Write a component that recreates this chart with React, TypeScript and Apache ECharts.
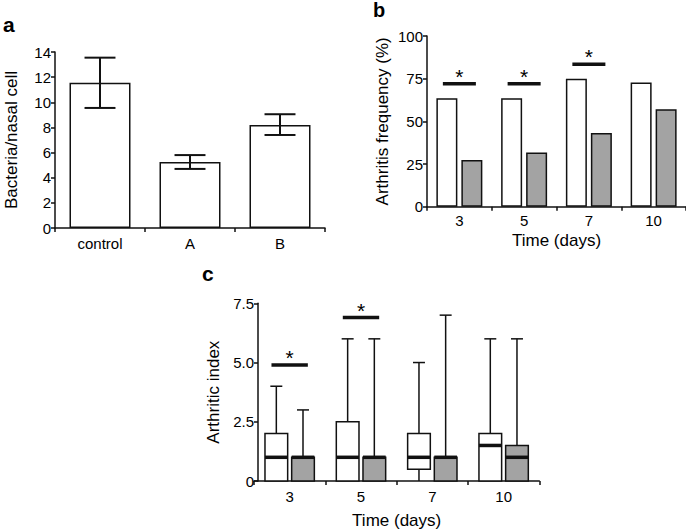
import React, { useEffect, useRef } from "react";
import * as echarts from "echarts";

// ---- Panel a data ----
const aCategories = ["control", "A", "B"];
const aMeans = [11.55, 5.25, 8.2];
const aErrLow = [9.55, 4.7, 7.4];
const aErrHigh = [13.55, 5.8, 9.05];

// ---- Panel b data ----
const bCategories = ["3", "5", "7", "10"];
const bWhite = [63.6, 63.6, 75, 72.7];
const bGray = [27.3, 31.8, 43.2, 57.1];
const bSigIndex = [0, 1, 2];
const bSigLevel = [72, 72, 83.5];

// ---- Panel c data: [min, q1, median, q3, max] ----
const cCategories = ["3", "5", "7", "10"];
const cWhiteBoxes = [
  [0, 0, 1, 2, 4],
  [0, 0, 1, 2.5, 6],
  [0, 0.5, 1, 2, 5],
  [0, 0, 1.5, 2, 6],
];
const cGrayBoxes = [
  [0, 0, 1, 1, 3],
  [0, 0, 1, 1, 6],
  [0, 0, 1, 1, 7],
  [0, 0, 1, 1.5, 6],
];
const cSigIndex = [0, 1];
const cSigLevel = [4.9, 6.9];

const FONT = "'Liberation Sans', Arial, Helvetica, sans-serif";
const INK = "#111";
const GRAYFILL = "#a3a3a3";

const axisLine = { show: true, lineStyle: { color: INK, width: 1.5 } };
const axisTick = { show: true, length: 4, inside: false, lineStyle: { color: INK, width: 1.5 } };
const tickLabel = { color: "#000", fontSize: 15, fontFamily: FONT };
const nameStyle = { color: "#000", fontSize: 17, fontFamily: FONT };

function errorBarRender(params: any, api: any) {
  const i = api.value(0);
  const lo = api.value(1);
  const hi = api.value(2);
  const top = api.coord([i, hi]);
  const bot = api.coord([i, lo]);
  const half = api.size([1, 0])[0] * 0.172;
  const st = { stroke: INK, lineWidth: 2 };
  return {
    type: "group",
    children: [
      { type: "line", shape: { x1: top[0], y1: top[1], x2: bot[0], y2: bot[1] }, style: st },
      { type: "line", shape: { x1: top[0] - half, y1: top[1], x2: top[0] + half, y2: top[1] }, style: st },
      { type: "line", shape: { x1: bot[0] - half, y1: bot[1], x2: bot[0] + half, y2: bot[1] }, style: st },
    ],
  };
}

function makeBoxRender(offsetFrac: number, fill: string) {
  return (params: any, api: any) => {
    const i = api.value(0);
    const mn = api.value(1);
    const q1 = api.value(2);
    const md = api.value(3);
    const q3 = api.value(4);
    const mx = api.value(5);
    const band = api.size([1, 0])[0];
    const c = api.coord([i, 0])[0] + offsetFrac * band;
    const hw = band * 0.159;
    const cap = band * 0.084;
    const y = (v: number) => api.coord([i, v])[1];
    const st = { stroke: INK, lineWidth: 1.5 };
    const children: any[] = [];
    children.push({ type: "line", shape: { x1: c, y1: y(q3), x2: c, y2: y(mx) }, style: st });
    children.push({ type: "line", shape: { x1: c - cap, y1: y(mx), x2: c + cap, y2: y(mx) }, style: st });
    if (mn < q1) {
      children.push({ type: "line", shape: { x1: c, y1: y(q1), x2: c, y2: y(mn) }, style: st });
    }
    children.push({
      type: "rect",
      shape: { x: c - hw, y: y(q3), width: hw * 2, height: y(q1) - y(q3) },
      style: { fill, stroke: INK, lineWidth: 1.5 },
    });
    children.push({
      type: "line",
      shape: { x1: c - hw, y1: y(md), x2: c + hw, y2: y(md) },
      style: { stroke: INK, lineWidth: 3.5 },
    });
    return { type: "group", children };
  };
}

function sigRender(params: any, api: any) {
  const i = api.value(0);
  const v = api.value(1);
  const p = api.coord([i, v]);
  const band = api.size([1, 0])[0];
  const half = band * 0.255;
  return {
    type: "group",
    children: [
      {
        type: "line",
        shape: { x1: p[0] - half, y1: p[1], x2: p[0] + half, y2: p[1] },
        style: { stroke: INK, lineWidth: 3.5 },
      },
      {
        type: "text",
        x: p[0],
        y: p[1] + 3,
        style: { text: "*", fontSize: 21, fontFamily: FONT, fill: "#000", align: "center", verticalAlign: "bottom" },
      },
    ],
  };
}

export default function App() {
  const ref = useRef<HTMLDivElement>(null);
  useEffect(() => {
    if (!ref.current) return;
    const chart = echarts.init(ref.current, null, { renderer: "svg" });
    const option: any = {
      animation: false,
      backgroundColor: "#fff",
      grid: [
        { left: 55, top: 52, width: 270, height: 176 },
        { left: 427, top: 36, width: 262, height: 170.7 },
        { left: 254, top: 303.3, width: 285.3, height: 181.7 },
      ],
      xAxis: [
        {
          type: "category",
          gridIndex: 0,
          data: aCategories,
          axisLine,
          axisTick,
          axisLabel: { ...tickLabel, margin: 8 },
        },
        {
          type: "category",
          gridIndex: 1,
          data: bCategories,
          axisLine,
          axisTick,
          axisLabel: { ...tickLabel, margin: 6 },
          name: "Time (days)",
          nameLocation: "middle",
          nameGap: 25,
          nameTextStyle: nameStyle,
        },
        {
          type: "category",
          gridIndex: 2,
          data: cCategories,
          axisLine,
          axisTick,
          axisLabel: { ...tickLabel, margin: 8 },
          name: "Time (days)",
          nameLocation: "middle",
          nameGap: 31,
          nameTextStyle: nameStyle,
        },
      ],
      yAxis: [
        {
          type: "value",
          gridIndex: 0,
          min: 0,
          max: 14,
          interval: 2,
          axisLine,
          axisTick,
          splitLine: { show: false },
          axisLabel: { ...tickLabel, margin: 4 },
          name: "Bacteria/nasal cell",
          nameLocation: "middle",
          nameGap: 35,
          nameTextStyle: nameStyle,
        },
        {
          type: "value",
          gridIndex: 1,
          min: 0,
          max: 100,
          interval: 25,
          axisLine,
          axisTick,
          splitLine: { show: false },
          axisLabel: { ...tickLabel, margin: 4 },
          name: "Arthritis frequency (%)",
          nameLocation: "middle",
          nameGap: 36,
          nameTextStyle: nameStyle,
        },
        {
          type: "value",
          gridIndex: 2,
          min: 0,
          max: 7.5,
          interval: 2.5,
          offset: -4,
          axisLine,
          axisTick,
          splitLine: { show: false },
          axisLabel: {
            ...tickLabel,
            margin: 4,
            formatter: (v: number) => (v === 0 ? "0" : v.toFixed(1)),
          },
          name: "Arthritic index",
          nameLocation: "middle",
          nameGap: 36,
          nameTextStyle: nameStyle,
        },
      ],
      series: [
        {
          type: "bar",
          xAxisIndex: 0,
          yAxisIndex: 0,
          data: aMeans,
          barWidth: 61,
          itemStyle: { color: "#fff", borderColor: INK, borderWidth: 1.5 },
        },
        {
          type: "custom",
          xAxisIndex: 0,
          yAxisIndex: 0,
          renderItem: errorBarRender,
          encode: { x: 0, y: [1, 2] },
          data: aCategories.map((_, i) => [i, aErrLow[i], aErrHigh[i]]),
          z: 5,
        },
        {
          type: "bar",
          xAxisIndex: 1,
          yAxisIndex: 1,
          data: bWhite,
          barWidth: 21,
          barGap: "19%",
          itemStyle: { color: "#fff", borderColor: INK, borderWidth: 1.5 },
        },
        {
          type: "bar",
          xAxisIndex: 1,
          yAxisIndex: 1,
          data: bGray,
          barWidth: 21,
          barGap: "19%",
          itemStyle: { color: GRAYFILL, borderColor: INK, borderWidth: 1.5 },
        },
        {
          type: "custom",
          xAxisIndex: 1,
          yAxisIndex: 1,
          renderItem: sigRender,
          encode: { x: 0, y: 1 },
          data: bSigIndex.map((idx, k) => [idx, bSigLevel[k]]),
          z: 5,
        },
        {
          type: "custom",
          xAxisIndex: 2,
          yAxisIndex: 2,
          renderItem: makeBoxRender(-0.187, "#fff"),
          encode: { x: 0, y: [1, 2, 3, 4, 5] },
          data: cWhiteBoxes.map((b, i) => [i, ...b]),
        },
        {
          type: "custom",
          xAxisIndex: 2,
          yAxisIndex: 2,
          renderItem: makeBoxRender(0.187, GRAYFILL),
          encode: { x: 0, y: [1, 2, 3, 4, 5] },
          data: cGrayBoxes.map((b, i) => [i, ...b]),
        },
        {
          type: "custom",
          xAxisIndex: 2,
          yAxisIndex: 2,
          renderItem: sigRender,
          encode: { x: 0, y: 1 },
          data: cSigIndex.map((idx, k) => [idx, cSigLevel[k]]),
          z: 5,
        },
      ],
      graphic: [
        { type: "text", left: 3, top: 14, style: { text: "a", fontSize: 21, fontWeight: "bold", fontFamily: FONT, fill: "#000" } },
        { type: "text", left: 373, top: 0, style: { text: "b", fontSize: 20, fontWeight: "bold", fontFamily: FONT, fill: "#000" } },
        { type: "text", left: 202, top: 263, style: { text: "c", fontSize: 21, fontWeight: "bold", fontFamily: FONT, fill: "#000" } },
      ],
    };
    chart.setOption(option);
    return () => chart.dispose();
  }, []);
  return (
    <div
      ref={ref}
      style={{ position: "absolute", left: 0, top: 0, width: 686, height: 530, background: "#fff" }}
    />
  );
}
